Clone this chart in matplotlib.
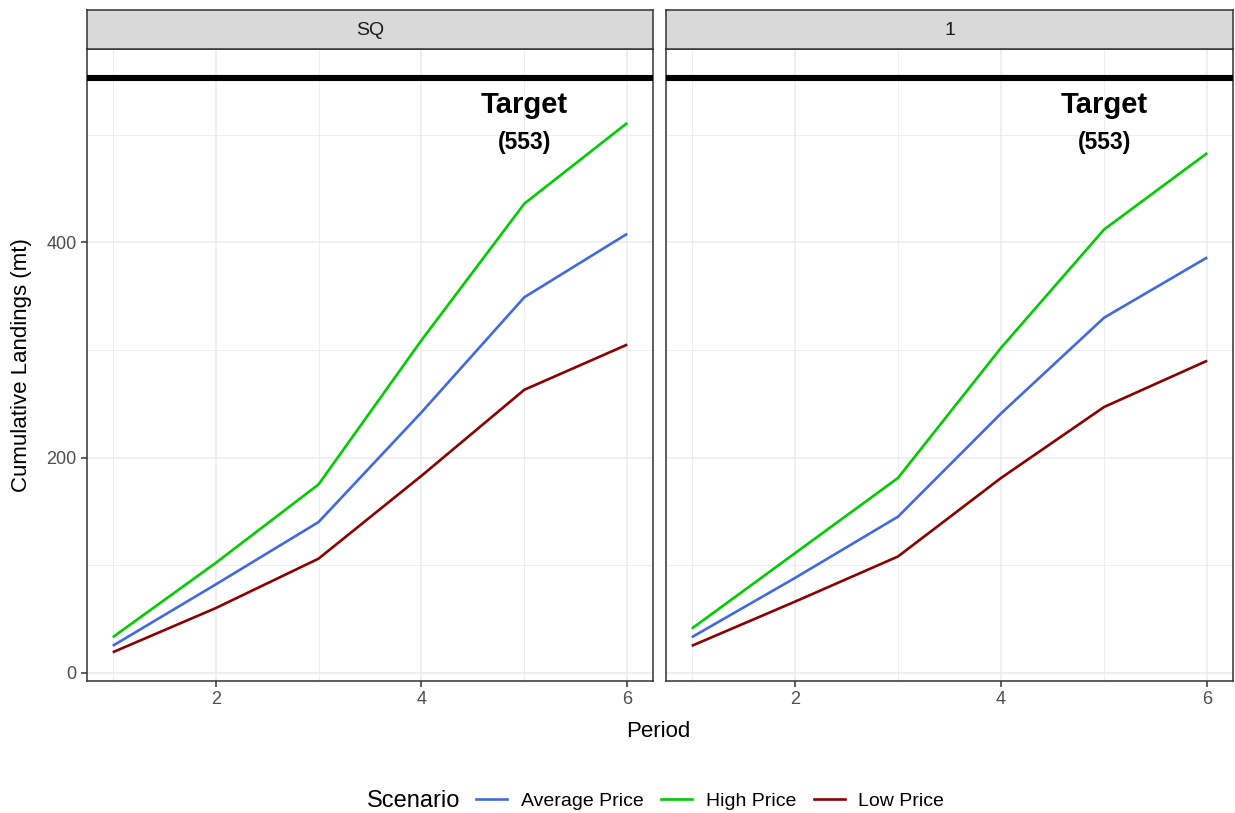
import matplotlib
matplotlib.use("Agg")
import matplotlib.pyplot as plt
from matplotlib.lines import Line2D

plt.rcParams['font.family'] = ['Liberation Sans', 'DejaVu Sans']

periods = [1, 2, 3, 4, 5, 6]
facets = ["SQ", "1"]
scenarios = ["Average Price", "High Price", "Low Price"]
colors = {"Average Price": "#4169E1", "High Price": "#00CD00", "Low Price": "#8B0000"}

values = {
    "SQ": {
        "Average Price": [25, 82, 140, 242, 349, 408],
        "High Price": [33, 102, 175, 309, 436, 511],
        "Low Price": [19, 60, 106, 183, 263, 305],
    },
    "1": {
        "Average Price": [33, 88, 145, 241, 330, 386],
        "High Price": [41, 111, 181, 302, 412, 483],
        "Low Price": [25, 66, 108, 181, 247, 290],
    },
}
target = 553
target_x = 5

W, H = 1235, 813
fig = plt.figure(figsize=(W / 100, H / 100), dpi=100)

panel_px = [(87, 653), (666, 1233)]
top_px, bot_px = 49, 681
strip_top = 10

for i, (facet, (x0, x1)) in enumerate(zip(facets, panel_px)):
    ax = fig.add_axes([x0 / W, 1 - bot_px / H, (x1 - x0) / W, (bot_px - top_px) / H])
    ax.set_xlim(0.75, 6.25)
    ax.set_ylim(-26.7 + 19, 553 + 26.7)
    ax.set_xticks([2, 4, 6])
    ax.set_xticks([1, 3, 5], minor=True)
    ax.set_yticks([0, 200, 400])
    ax.set_yticks([100, 300, 500], minor=True)
    ax.grid(True, which='major', color='#EBEBEB', linewidth=1.1)
    ax.grid(True, which='minor', color='#EBEBEB', linewidth=0.6)
    ax.set_axisbelow(True)
    for s in ax.spines.values():
        s.set_color('#333333')
        s.set_linewidth(1.1)
    ax.tick_params(which='major', length=4, width=1.1, color='#333333',
                   labelcolor='#4D4D4D', labelsize=13)
    ax.tick_params(which='minor', length=0)
    if i > 0:
        ax.tick_params(axis='y', which='both', left=False, labelleft=False)
    for sc in scenarios:
        ax.plot(periods, values[facet][sc], color=colors[sc], linewidth=1.9,
                solid_capstyle='butt', zorder=3)
    ax.axhline(target, color='black', linewidth=4.4, zorder=4)
    ax.text(target_x, 528, "Target", ha='center', va='center', fontsize=21,
            fontweight='bold', color='black')
    ax.text(target_x, 493, f"({target})", ha='center', va='center', fontsize=16.5,
            fontweight='bold', color='black')

    # strip
    sax = fig.add_axes([x0 / W, 1 - top_px / H, (x1 - x0) / W, (top_px - strip_top) / H])
    sax.set_facecolor('#D9D9D9')
    sax.set_xticks([])
    sax.set_yticks([])
    for s in sax.spines.values():
        s.set_color('#333333')
        s.set_linewidth(1.1)
    sax.text(0.5, 0.47, facet, ha='center', va='center', fontsize=14,
             color='#1A1A1A', transform=sax.transAxes)

fig.text(658 / W, 1 - 731 / H, "Period", ha='center', va='center', fontsize=16)
fig.text(22 / W, 1 - 365 / H, "Cumulative Landings (mt)", ha='center', va='center',
         fontsize=16, rotation=90)

fig.text(367 / W, 1 - 801 / H, "Scenario", ha='left', va='center', fontsize=17)
handles = [Line2D([0], [0], color=colors[sc], linewidth=1.9) for sc in scenarios]
fig.legend(handles, scenarios, loc='center left', bbox_to_anchor=(476 / W, 1 - 801 / H),
           ncol=3, frameon=False, fontsize=14, handlelength=1.6, handletextpad=0.7,
           columnspacing=0.9, borderpad=0, borderaxespad=0)

fig.savefig("out.png", dpi=100)
